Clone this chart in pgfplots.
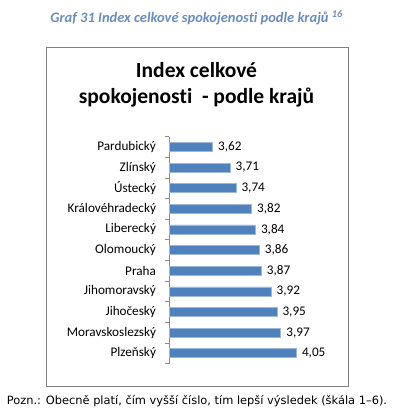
\documentclass[border=0pt]{standalone}
\usepackage{pgfplots}
\pgfplotsset{compat=1.18}
\usepackage{pgfplotstable}
\usepackage{fontspec}
\setmainfont[Ligatures=NoCommon]{Carlito}
\newfontfamily\notefont{DejaVu Sans}
\definecolor{barblue}{HTML}{4F81BD}
\definecolor{baredge}{HTML}{9DB7DB}
\definecolor{capblue}{HTML}{6A8DC0}
\pgfplotstableread{
idx val
0 3.62
1 3.71
2 3.74
3 3.82
4 3.84
5 3.86
6 3.87
7 3.92
8 3.95
9 3.97
10 4.05
}\krajdata
\begin{document}
\begin{tikzpicture}[x=1pt,y=1pt]
\fill[white] (0,0) rectangle (394,418);
\draw[black!50, line width=0.8pt] (46.7,370.3) rectangle (348.3,31.3);
\node[font=\bfseries\itshape\fontsize{14.5}{16}\selectfont, text=capblue] at (196.5,400) {Graf 31 Index celkové spokojenosti podle krajů \textsuperscript{16}};
\node[align=center, font=\bfseries\fontsize{21.5}{26}\selectfont] at (196.5,333) {Index celkové\\spokojenosti\ \ -\ podle\ krajů};
\node[font=\notefont\fontsize{11.4}{13}\selectfont] at (197,17.3) {Pozn.: Obecně platí, čím vyšší číslo, tím lepší výsledek (škála 1–6).};
\begin{axis}[
  at={(169.5pt,54.4pt)}, anchor=south west,
  scale only axis, width=156.2pt, height=227pt,
  xbar, bar width=9pt,
  xmin=3.4, xmax=4.2,
  ymin=-0.5, ymax=10.5, y dir=reverse,
  axis x line=none,
  axis y line*=left,
  y axis line style={black!45, line width=0.6pt, -},
  ytick={0,...,10},
  yticklabels={Pardubický,Zlínský,Ústecký,Královéhradecký,Liberecký,Olomoucký,Praha,Jihomoravský,Jihočeský,Moravskoslezský,Plzeňský},
  major tick length=0pt,
  minor ytick={-0.5,0.5,...,10.5},
  minor tick length=4pt,
  tick align=outside,
  minor tick style={black!45, line width=0.6pt},
  yticklabel style={font=\fontsize{13.2}{15}\selectfont, xshift=-10pt},
  nodes near coords,
  nodes near coords style={font=\fontsize{13.2}{15}\selectfont, anchor=west, xshift=2pt,
    /pgf/number format/.cd, fixed, fixed zerofill, precision=2, use comma, assume math mode=true},
  clip=false,
]
\addplot[fill=barblue, draw=baredge, line width=0.6pt] table[x=val, y=idx] {\krajdata};
\end{axis}
\end{tikzpicture}
\end{document}
